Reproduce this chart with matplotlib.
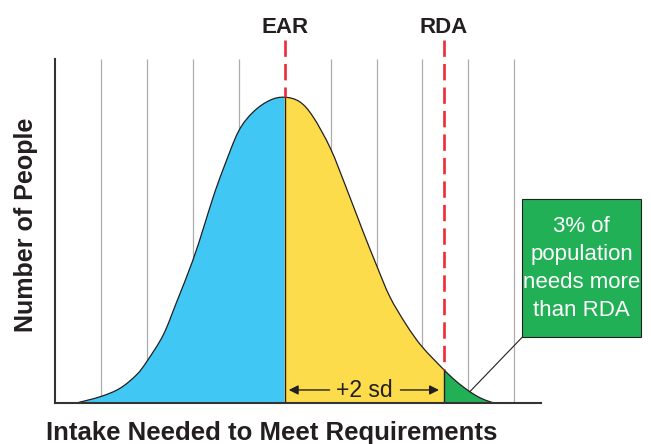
import matplotlib
matplotlib.use("Agg")
import matplotlib.pyplot as plt
from matplotlib.patches import Rectangle, FancyArrowPatch, PathPatch
from matplotlib.path import Path
import numpy as np

plt.rcParams['font.family'] = ['Liberation Sans', 'DejaVu Sans']

# curve (x: intake units, y: % of peak)
curve_x = [0.45, 1.00, 1.42, 1.78, 2.01, 2.36, 2.65, 3.00, 3.23, 3.45, 3.67,
           4.00, 4.32, 4.68, 5.00, 5.33, 5.62, 6.00, 6.35, 6.71, 7.00, 7.29, 7.65,
           7.99, 8.47, 8.74, 9.01, 9.25, 9.47, 9.58]
curve_y = [0.0, 2.2, 4.9, 9.3, 13.8, 22.3, 33.0, 46.5, 57.0, 67.5, 76.7,
           88.9, 95.2, 99.0, 100.0, 98.5, 93.6, 83.2, 70.1, 56.0, 45.1, 34.8, 25.6,
           18.5, 10.9, 7.1, 4.0, 1.8, 0.5, 0.0]
grid_x = [1, 2, 3, 4, 6, 7, 8, 9, 10]
ear = 5.0
rda = 8.47
markers = ['EAR', 'RDA']
box_text = '3% of\npopulation\nneeds more\nthan RDA'

dark = '#231F20'
blue = '#41C7F4'
yellow = '#FDDC4B'
green = '#22B057'
red = '#EE2A35'

pts = np.column_stack([curve_x, curve_y])
n = len(pts)


def bezier_segments(i0, i1):
    # smooth cubic pieces through the read points (Catmull-Rom style handles)
    verts, codes = [], []
    for k in range(i0, i1):
        p0 = pts[max(k - 1, 0)]
        p1 = pts[k]
        p2 = pts[k + 1]
        p3 = pts[min(k + 2, n - 1)]
        c1 = p1 + (p2 - p0) / 6.0
        c2 = p2 - (p3 - p1) / 6.0
        verts += [c1, c2, p2]
        codes += [Path.CURVE4] * 3
    return verts, codes


def area_patch(i0, i1, color):
    v, c = bezier_segments(i0, i1)
    verts = [(pts[i0][0], 0), pts[i0]] + v + [(pts[i1][0], 0), (pts[i0][0], 0)]
    codes = [Path.MOVETO, Path.LINETO] + c + [Path.LINETO, Path.CLOSEPOLY]
    return PathPatch(Path(verts, codes), facecolor=color, lw=0, zorder=1)


i_ear = curve_x.index(ear)
i_rda = curve_x.index(rda)

fig = plt.figure(figsize=(6.51, 4.44), dpi=100)
ax = fig.add_axes([0.084, 0.0917, 0.7465, 0.7755])
ax.set_xlim(0, 10.57)
ax.set_ylim(0, 112.5)

# grid lines behind everything
ax.vlines(grid_x, 0, 112.5, color='#ADADAD', lw=0.9, zorder=0)

# coloured areas under the curve
ax.add_patch(area_patch(0, i_ear, blue))
ax.add_patch(area_patch(i_ear, i_rda, yellow))
ax.add_patch(area_patch(i_rda, n - 1, green))
v, c = bezier_segments(0, n - 1)
ax.add_patch(PathPatch(Path([pts[0]] + v, [Path.MOVETO] + c), fill=False,
                       edgecolor=dark, lw=0.9, zorder=2))

# dividers at EAR and RDA
ear_h = curve_y[i_ear]
rda_h = curve_y[i_rda]
ax.plot([ear, ear], [0, ear_h], color=dark, lw=1.0, zorder=2)
ax.plot([rda, rda], [0, rda_h], color=dark, lw=1.0, zorder=2)

# red dashed markers
for pos, h, lab in zip([ear, rda], [ear_h, rda_h], markers):
    ax.plot([pos, pos], [118.7, h], color=red, lw=1.9, ls=(0, (6.2, 2.7)),
            clip_on=False, zorder=3)
    ax.text(pos, 121.1, lab, ha='center', va='baseline', fontsize=16,
            fontweight='bold', color=dark)

# +2 sd arrows
ax.add_patch(FancyArrowPatch((6.04, 4.35), (ear + 0.03, 4.35), arrowstyle='-|>',
                             mutation_scale=14, color=dark, lw=1.0, zorder=4))
ax.add_patch(FancyArrowPatch((7.46, 4.35), (rda - 0.05, 4.35), arrowstyle='-|>',
                             mutation_scale=14, color=dark, lw=1.0, zorder=4))
ax.text(6.73, 2.2, '+2 sd', ha='center', va='baseline', fontsize=16.5, color=dark,
        zorder=4)

# green call-out box
ax.add_patch(Rectangle((10.17, 21.6), 2.58, 45.1, facecolor=green, edgecolor=dark,
                       lw=0.8, clip_on=False, zorder=4))
ax.text(11.46, 44.1, box_text, ha='center', va='center', fontsize=16,
        color='white', linespacing=1.45, zorder=5)
ax.plot([10.17, 9.03], [21.6, 3.8], color=dark, lw=0.8, clip_on=False, zorder=4)

# axes look
for s in ['top', 'right']:
    ax.spines[s].set_visible(False)
for s in ['left', 'bottom']:
    ax.spines[s].set_color('#333333')
    ax.spines[s].set_linewidth(1.5)
    ax.spines[s].set_zorder(6)
ax.set_xticks([])
ax.set_yticks([])

fig.text(272 / 651, 0.009, 'Intake Needed to Meet Requirements', ha='center',
         va='baseline', fontsize=18.5, fontweight='bold', color=dark)
fig.text(26 / 651, 0.493, 'Number of People', rotation=90, ha='center',
         va='center', fontsize=18, fontweight='bold', color=dark)

fig.savefig('out.png', dpi=100)
